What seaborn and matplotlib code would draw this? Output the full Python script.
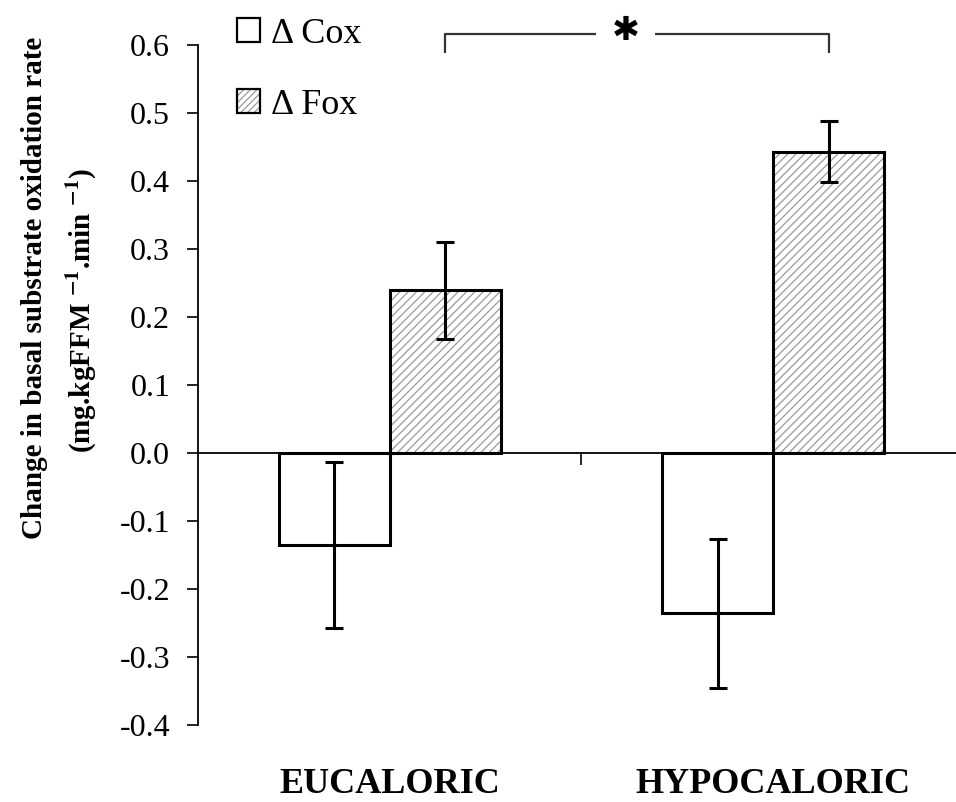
import numpy as np
import pandas as pd
import matplotlib
matplotlib.use("Agg")
import matplotlib.pyplot as plt
import seaborn as sns
from matplotlib.patches import Rectangle, Patch
from matplotlib.legend_handler import HandlerTuple
from matplotlib.ticker import FormatStrFormatter

# ---- data ----
groups = ["EUCALORIC", "HYPOCALORIC"]
series = ["\u0394 Cox", "\u0394 Fox"]
cox_mean = [-0.135, -0.236]
cox_err = [0.122, 0.110]
fox_mean = [0.239, 0.443]
fox_err = [0.071, 0.045]
y_ticks = [-0.4, -0.3, -0.2, -0.1, 0.0, 0.1, 0.2, 0.3, 0.4, 0.5, 0.6]
ylabel_line1 = "Change in basal substrate oxidation rate"
ylabel_line2 = r"(mg.kgFFM $^{\mathbf{-1}}$.min $^{\mathbf{-1}}$)"
signif_text = "\u2731"

df = pd.DataFrame({
    "group": groups * 2,
    "series": [series[0]] * 2 + [series[1]] * 2,
    "value": cox_mean + fox_mean,
})
errs = {series[0]: cox_err, series[1]: fox_err}

sns.set_theme(style="white")
plt.rcParams["font.family"] = ["Liberation Serif", "DejaVu Serif"]
plt.rcParams["mathtext.fontset"] = "stix"
plt.rcParams["axes.unicode_minus"] = False
for k in ["text.color", "axes.labelcolor", "xtick.color", "ytick.color", "axes.edgecolor"]:
    plt.rcParams[k] = "black"
plt.rcParams["hatch.linewidth"] = 0.9

W, H = 956, 802
fig = plt.figure(figsize=(W / 100, H / 100), dpi=100)
ax_left, ax_right, ax_top, ax_bot = 198, 956, 45, 725
ax = fig.add_axes([ax_left / W, 1 - ax_bot / H, (ax_right - ax_left) / W, (ax_bot - ax_top) / H])

sns.barplot(data=df, x="group", y="value", hue="series", hue_order=series,
            order=groups, palette=["white", "white"], edgecolor="black",
            linewidth=2.2, width=0.578, errorbar=None, legend=False, ax=ax,
            saturation=1, zorder=3)

HATCH = "////"
HATCH_GRAY = "#9a9a9a"

# hatch the Fox bars (gray hatch, black outline)
for p in ax.containers[1]:
    p.set_facecolor("white")
    p.set_hatch(HATCH)
    p.set_edgecolor(HATCH_GRAY)
    p.set_linewidth(0)
    outline = Rectangle((p.get_x(), p.get_y()), p.get_width(), p.get_height(),
                        fill=False, edgecolor="black", linewidth=2.2, zorder=4)
    ax.add_patch(outline)

# error bars
for cont, s in zip(ax.containers[:2], series):
    xs = [p.get_x() + p.get_width() / 2 for p in cont]
    ys = [p.get_height() for p in cont]
    ax.errorbar(xs, ys, yerr=errs[s], fmt="none", ecolor="black",
                elinewidth=2.2, capsize=6.8, capthick=2.2, zorder=5)

ax.set_ylim(-0.4, 0.6)
ax.set_xlim(-0.5, 1.5 - 9 / 384)
ax.set_yticks(y_ticks)
ax.yaxis.set_major_formatter(FormatStrFormatter("%.1f"))
ax.tick_params(axis="y", direction="out", length=8, width=1.2, pad=12,
               labelsize=23, colors="black", left=True)

# spines
for s in ["top", "right"]:
    ax.spines[s].set_visible(False)
ax.spines["left"].set_color("black")
ax.spines["left"].set_linewidth(1.3)
ax.spines["bottom"].set_position(("data", 0))
ax.spines["bottom"].set_color("black")
ax.spines["bottom"].set_linewidth(1.3)
ax.spines["bottom"].set_zorder(2)

ax.set_xticks([0, 1])
ax.set_xticklabels([])
ax.set_xticks([0.5], minor=True)
ax.tick_params(axis="x", which="major", length=0, bottom=False)
ax.tick_params(axis="x", which="minor", length=8.5, width=1.2, direction="out",
               bottom=True, colors="black")
ax.set_xlabel("")
ax.set_ylabel("")

# category labels at the bottom
trans = matplotlib.transforms.blended_transform_factory(ax.transData, ax.transAxes)
for i, g in enumerate(groups):
    ax.text(i, -0.087, g, transform=trans, ha="center", va="center",
            fontsize=26, fontweight="bold", clip_on=False, color="black")

# y label (two lines)
fig.text(35 / W, 1 - 288 / H, ylabel_line1, rotation=90, ha="center", va="center",
         fontsize=21, fontweight="bold", color="black")
fig.text(82 / W, 1 - 310 / H, ylabel_line2, rotation=90, ha="center", va="center",
         fontsize=21, fontweight="bold", color="black")

# significance bracket between the Fox bars
fox_x = [p.get_x() + p.get_width() / 2 for p in ax.containers[1]]
yb_top, yb_end = 0.616, 0.588
gap_c = fox_x[0] + 0.47 * (fox_x[1] - fox_x[0])
gap_half = 0.076
kw = dict(color="#333333", linewidth=1.6, clip_on=False, solid_capstyle="butt")
ax.plot([fox_x[0], fox_x[0], gap_c - gap_half], [yb_end, yb_top, yb_top], **kw)
ax.plot([gap_c + gap_half, fox_x[1], fox_x[1]], [yb_top, yb_top, yb_end], **kw)
ax.text(gap_c, yb_top + 0.006, signif_text, ha="center", va="center", fontsize=24,
        family=["DejaVu Sans"], clip_on=False, color="black")

# legend
h_cox = Patch(facecolor="white", edgecolor="black", linewidth=1.6)
h_fox_hatch = Patch(facecolor="white", edgecolor=HATCH_GRAY, hatch="/////", linewidth=0)
h_fox_out = Patch(facecolor="none", edgecolor="black", linewidth=1.6)
fig.legend([h_cox, (h_fox_hatch, h_fox_out)], series,
           handler_map={tuple: HandlerTuple(ndivide=1, pad=0)},
           loc="upper left", bbox_to_anchor=(226 / W, 1 - 7 / H),
           frameon=False, fontsize=26, handlelength=0.65, handleheight=0.65,
           handletextpad=0.3, labelspacing=1.05, borderaxespad=0, borderpad=0.3)

fig.savefig("out.png", dpi=100, facecolor="white")
